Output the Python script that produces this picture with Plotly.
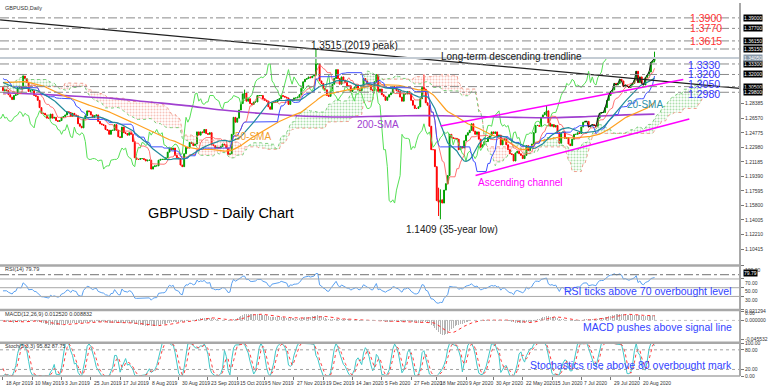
import numpy as np
import pandas as pd
import plotly.graph_objects as go

# ---------------- DATA (daily closes, read/estimated from the chart) ----------------
hist_closes = [  # 27 Dec 2018 - 17 Apr 2019 (warm-up for indicators)
    1.2670, 1.2700, 1.2750,
    1.2610, 1.2630, 1.2730,
    1.2780, 1.2730, 1.2770, 1.2750, 1.2840,
    1.2870, 1.2670, 1.2880, 1.2980, 1.2880,
    1.2880, 1.2950, 1.3050, 1.3060, 1.3190,
    1.3140, 1.3070, 1.3120, 1.3110, 1.3070,
    1.3040, 1.2960, 1.2940, 1.2950, 1.2940,
    1.2860, 1.2920, 1.2860, 1.2800, 1.2890,
    1.2940, 1.3050, 1.3050, 1.3040, 1.3060,
    1.3090, 1.3250, 1.3300, 1.3260, 1.3200,
    1.3160, 1.3170, 1.3130, 1.3130, 1.3010,
    1.3150, 1.3080, 1.3300, 1.3230, 1.3260,
    1.3270, 1.3260, 1.3210, 1.3080, 1.3210,
    1.3200, 1.3210, 1.3200, 1.3040, 1.3030,
    1.3150, 1.3070, 1.3190, 1.3110, 1.3030,
    1.3070, 1.3060, 1.3100, 1.3070, 1.3080,
    1.3090, 1.3050, 1.3040,
]
closes_2019 = [  # 18 Apr 2019 - 31 Dec 2019
    1.3000, 1.3010,
    1.3000, 1.2950, 1.2920, 1.2890, 1.2940,
    1.2950, 1.3040, 1.3040, 1.3030, 1.3180,
    1.3150, 1.3100, 1.2990, 1.3000, 1.3000,
    1.2940, 1.2930, 1.2880, 1.2790, 1.2720,
    1.2720, 1.2700, 1.2660, 1.2660, 1.2710,
    1.2660, 1.2670, 1.2630, 1.2620, 1.2630,
    1.2670, 1.2680, 1.2700, 1.2740, 1.2730,
    1.2680, 1.2720, 1.2700, 1.2690, 1.2590,
    1.2560, 1.2540, 1.2650, 1.2690, 1.2750,
    1.2740, 1.2700, 1.2670, 1.2690, 1.2700,
    1.2620, 1.2590, 1.2580, 1.2570, 1.2520,
    1.2510, 1.2460, 1.2510, 1.2510, 1.2580,
    1.2510, 1.2430, 1.2420, 1.2550, 1.2480,
    1.2470, 1.2450, 1.2480, 1.2460, 1.2370,
    1.2170, 1.2150, 1.2150, 1.2160, 1.2160,
    1.2150, 1.2130, 1.2140, 1.2140, 1.2030,
    1.2060, 1.2070, 1.2070, 1.2140, 1.2150,
    1.2150, 1.2150, 1.2170, 1.2240, 1.2290,
    1.2270, 1.2290, 1.2200, 1.2170, 1.2160,
    1.2080, 1.2060, 1.2220, 1.2300, 1.2290,
    1.2360, 1.2350, 1.2320, 1.2340, 1.2490,
    1.2450, 1.2490, 1.2480, 1.2520, 1.2470,
    1.2460, 1.2480, 1.2330, 1.2320, 1.2290,
    1.2300, 1.2290, 1.2310, 1.2340, 1.2330,
    1.2290, 1.2210, 1.2220, 1.2460, 1.2670,
    1.2610, 1.2660, 1.2760, 1.2840, 1.2960,
    1.2970, 1.2870, 1.2900, 1.2840, 1.2830,
    1.2860, 1.2860, 1.2940, 1.2940, 1.2940,
    1.2900, 1.2880, 1.2870, 1.2800, 1.2770,
    1.2850, 1.2860, 1.2860, 1.2890, 1.2900,
    1.2940, 1.2930, 1.2920, 1.2910, 1.2830,
    1.2890, 1.2880, 1.2910, 1.2910, 1.2920,
    1.2950, 1.3030, 1.3110, 1.3140, 1.3150,
    1.3170, 1.3160, 1.3180, 1.3200, 1.3330,
    1.3330, 1.3120, 1.3090, 1.3030, 1.3010,
    1.2940, 1.2930, 1.3000, 1.3080,
    1.3150, 1.3260,
]
closes_2020 = [  # 2 Jan 2020 - 1 Sep 2020
    1.3150, 1.3080,
    1.3170, 1.3130, 1.3100, 1.3060, 1.3060,
    1.2990, 1.3020, 1.3040, 1.3070, 1.3010,
    1.3000, 1.3050, 1.3150, 1.3120, 1.3080,
    1.3070, 1.3010, 1.3000, 1.3110, 1.3200,
    1.2990, 1.3020, 1.2950, 1.2930, 1.2880,
    1.2920, 1.2950, 1.2970, 1.3050, 1.3040,
    1.3000, 1.2990, 1.2920, 1.2870, 1.2960,
    1.2960, 1.2990, 1.2960, 1.2880, 1.2820,
    1.2780, 1.2780, 1.2800, 1.2900, 1.3040,
    1.3020, 1.2850, 1.2820, 1.2560, 1.2270,
    1.2270, 1.2060, 1.1640, 1.1620, 1.1650,
    1.1610, 1.1770, 1.1850, 1.1950, 1.2460,
    1.2420, 1.2410, 1.2410, 1.2400, 1.2270,
    1.2310, 1.2290, 1.2380, 1.2450, 1.2480,
    1.2510, 1.2590, 1.2500, 1.2460, 1.2490,
    1.2400, 1.2300, 1.2330, 1.2370, 1.2370,
    1.2420, 1.2440, 1.2490, 1.2470, 1.2490,
    1.2440, 1.2450, 1.2330, 1.2400, 1.2400,
    1.2330, 1.2270, 1.2220, 1.2210, 1.2130,
    1.2230, 1.2250, 1.2220, 1.2200, 1.2160,
    1.2200, 1.2320, 1.2260, 1.2300, 1.2340,
    1.2480, 1.2570, 1.2570, 1.2560, 1.2670,
    1.2700, 1.2730, 1.2750, 1.2600, 1.2560,
    1.2580, 1.2550, 1.2570, 1.2480, 1.2350,
    1.2480, 1.2490, 1.2410, 1.2420, 1.2340,
    1.2320, 1.2400, 1.2460, 1.2460, 1.2480,
    1.2470, 1.2550, 1.2610, 1.2620, 1.2620,
    1.2550, 1.2570, 1.2580, 1.2570, 1.2560,
    1.2660, 1.2720, 1.2730, 1.2730, 1.2790,
    1.2880, 1.2940, 1.2990, 1.3010, 1.3090,
    1.3070, 1.3090, 1.3140, 1.3120, 1.3050,
    1.3070, 1.3050, 1.3040, 1.3070, 1.3090,
    1.3130, 1.3240, 1.3100, 1.3170, 1.3090,
    1.3070, 1.3160, 1.3190, 1.3230, 1.3350,
    1.3370, 1.3410,
]
wick_dates = ['2019-05-03', '2019-10-21', '2019-12-13', '2020-03-09',
              '2020-03-19', '2020-03-20', '2020-06-10', '2020-09-01']
wick_highs = [1.3190, 1.3013, 1.3515, 1.3200, 1.1800, 1.1780, 1.2813, 1.3482]
wick_lows = [1.3030, 1.2900, 1.3180, 1.2990, 1.1450, 1.1409, 1.2680, 1.3350]

sma200_idx = [0, 20, 40, 60, 80, 100, 120, 140, 160, 180, 200, 220, 240, 260, 280, 300, 320, 340, 356]
sma200_val = [1.2975, 1.2955, 1.2930, 1.2905, 1.2860, 1.2815, 1.2760, 1.2720, 1.2690, 1.2675,
              1.2680, 1.2690, 1.2690, 1.2680, 1.2670, 1.2665, 1.2680, 1.2700, 1.2710]

date_labels = ["18 Apr 2019", "10 May 2019", "3 Jun 2019", "25 Jun 2019", "17 Jul 2019",
               "8 Aug 2019", "30 Aug 2019", "23 Sep 2019", "15 Oct 2019", "5 Nov 2019",
               "27 Nov 2019", "19 Dec 2019", "14 Jan 2020", "5 Feb 2020", "27 Feb 2020",
               "18 Mar 2020", "9 Apr 2020", "30 Apr 2020", "22 May 2020", "15 Jun 2020",
               "7 Jul 2020", "29 Jul 2020", "20 Aug 2020"]

red_levels = [1.3900, 1.3770, 1.3615]
blue_levels = [1.3330, 1.3200, 1.3050, 1.2980]
peak_level = 1.3515
current_price = 1.3405
price_ticks = [1.10415, 1.12210, 1.14005, 1.15800, 1.17595, 1.19390, 1.21185,
               1.22980, 1.24775, 1.26570, 1.28385]

trend_x = [-1.6, 402.7]
trend_y = [1.3875, 1.3029]
chan_up_x = [239.1, 371.7]
chan_up_y = [1.2563, 1.3139]
chan_lo_x = [258.2, 375.0]
chan_lo_y = [1.1952, 1.2649]
zigzag_start = '2020-07-09'

# ---------------- derived series ----------------
close = np.array(hist_closes + closes_2019 + closes_2020)
n_hist = len(hist_closes)
alld = pd.bdate_range('2018-12-27', '2020-09-01')
alld = alld[~alld.isin(pd.to_datetime(['2019-01-01', '2019-12-25', '2020-01-01']))]
m = min(len(alld), len(close))
alld = alld[:m]
close = close[:m]
open_ = np.r_[close[0], close[:-1]]
high = np.maximum(open_, close)
low = np.minimum(open_, close)
for d, h, l in zip(wick_dates, wick_highs, wick_lows):
    ts = pd.Timestamp(d)
    if ts in alld:
        k = alld.get_loc(ts)
        high[k] = max(high[k], h)
        low[k] = min(low[k], l)

s, hs, ls = pd.Series(close), pd.Series(high), pd.Series(low)
sma20 = s.rolling(20).mean()
sma50 = s.rolling(50).mean()
tenkan = (hs.rolling(9).max() + ls.rolling(9).min()) / 2
kijun = (hs.rolling(26).max() + ls.rolling(26).min()) / 2
spanA = ((tenkan + kijun) / 2).values
spanB = ((hs.rolling(52).max() + ls.rolling(52).min()) / 2).values

delta = s.diff()
ag = delta.clip(lower=0).ewm(alpha=1 / 14, adjust=False).mean()
al = (-delta.clip(upper=0)).ewm(alpha=1 / 14, adjust=False).mean()
rsi = 100 - 100 / (1 + ag / al)
macd = s.ewm(span=12, adjust=False).mean() - s.ewm(span=26, adjust=False).mean()
signal = macd.rolling(9).mean()
ll5, hh5 = ls.rolling(5).min(), hs.rolling(5).max()
stk = (s - ll5).rolling(3).sum() / (hh5 - ll5).rolling(3).sum() * 100
std = stk.rolling(3).mean()

N = m - n_hist
x = np.arange(N)
cs = slice(n_hist, m)
dates = alld[n_hist:]

xc = np.arange(N + 26)
A = spanA[n_hist - 26: n_hist - 26 + N + 26]
B = spanB[n_hist - 26: n_hist - 26 + N + 26]
xchik = np.arange(-26, N - 26)
zz0 = int(dates.searchsorted(pd.Timestamp(zigzag_start)))

# ---------------- geometry ----------------
W, H = 768, 389
MR, MB = 24, 13
PW, PH = W - MR, H - MB


def yp(py):
    return 1 - py / PH


P_TOP, P_SLOPE = 1.4084, 0.0012268
FONT = "Arial, Liberation Sans, sans-serif"

fig = go.Figure()
# cloud
cloud_common = dict(x=xc, mode='lines', hoverinfo='skip', showlegend=False)
fig.add_trace(go.Scatter(y=B, line=dict(color='#f0a090', width=1, dash='dot'), **cloud_common))
fig.add_trace(go.Scatter(y=np.where(A > B, A, B), line=dict(width=0), fill='tonexty',
                         fillcolor='rgba(0,0,0,0)',
                         fillpattern=dict(shape='.', fgcolor='#5cbf5c', bgcolor='rgba(255,255,255,0)',
                                          size=3, solidity=0.35), **cloud_common))
fig.add_trace(go.Scatter(y=A, line=dict(color='#7ccf7c', width=1, dash='dot'), **cloud_common))
fig.add_trace(go.Scatter(y=np.where(B > A, B, A), line=dict(width=0), fill='tonexty',
                         fillcolor='rgba(0,0,0,0)',
                         fillpattern=dict(shape='.', fgcolor='#f08878', bgcolor='rgba(255,255,255,0)',
                                          size=3, solidity=0.35), **cloud_common))
# lines
fig.add_trace(go.Scatter(x=xchik, y=close[cs], mode='lines', line=dict(color='#55e055', width=1)))
fig.add_trace(go.Scatter(x=sma200_idx, y=sma200_val, mode='lines', line=dict(color='#a040d0', width=1.6, shape='spline')))
fig.add_trace(go.Scatter(x=x, y=sma50.values[cs], mode='lines', line=dict(color='#ffa020', width=1.2)))
fig.add_trace(go.Scatter(x=x, y=tenkan.values[cs], mode='lines', line=dict(color='#ff5050', width=0.8)))
fig.add_trace(go.Scatter(x=x, y=kijun.values[cs], mode='lines', line=dict(color='#4050ff', width=1)))
fig.add_trace(go.Scatter(x=x, y=sma20.values[cs], mode='lines', line=dict(color='#1f8a9a', width=1.2)))
fig.add_trace(go.Scatter(x=trend_x, y=trend_y, mode='lines', line=dict(color='#202020', width=1.3)))
fig.add_trace(go.Scatter(x=chan_up_x, y=chan_up_y, mode='lines', line=dict(color='#ff00ff', width=1.5)))
fig.add_trace(go.Scatter(x=chan_lo_x, y=chan_lo_y, mode='lines', line=dict(color='#ff00ff', width=1.5)))
fig.add_trace(go.Candlestick(x=x, open=open_[cs], high=high[cs], low=low[cs], close=close[cs],
                             increasing=dict(line=dict(color='#00a000', width=1), fillcolor='#00a000'),
                             decreasing=dict(line=dict(color='#ff0000', width=1), fillcolor='#ff0000'),
                             whiskerwidth=0, hoverinfo='skip'))
fig.add_trace(go.Scatter(x=x[zz0:], y=close[cs][zz0:], mode='lines', line=dict(color='#1a1a1a', width=1)))
# RSI
fig.add_trace(go.Scatter(x=x, y=rsi.values[cs], yaxis='y2', mode='lines', line=dict(color='#5aa0f0', width=1)))
# MACD
fig.add_trace(go.Bar(x=x, y=macd.values[cs], yaxis='y3', marker_color='#b4b4b4', marker_line_width=0, width=0.55))
fig.add_trace(go.Scatter(x=x, y=signal.values[cs], yaxis='y3', mode='lines', line=dict(color='#ff3030', width=1, dash='dot')))
# Stoch
fig.add_trace(go.Scatter(x=x, y=stk.values[cs], yaxis='y4', mode='lines', line=dict(color='#40c8c8', width=1)))
fig.add_trace(go.Scatter(x=x, y=std.values[cs], yaxis='y4', mode='lines', line=dict(color='#ff4040', width=1, dash='dot')))

shapes = []
for lv in red_levels + [peak_level] + blue_levels:
    shapes.append(dict(type='line', xref='paper', x0=0, x1=1, yref='y', y0=lv, y1=lv,
                       line=dict(color='#8a8a8a', width=1, dash='dashdot')))
shapes.append(dict(type='line', xref='paper', x0=0, x1=1, yref='y', y0=current_price, y1=current_price,
                   line=dict(color='#c4ccd4', width=2)))
for lv in [70, 50, 30]:
    shapes.append(dict(type='line', xref='paper', x0=0, x1=1, yref='y2', y0=lv, y1=lv,
                       line=dict(color='#a8a8a8', width=1)))
shapes.append(dict(type='line', xref='paper', x0=0, x1=1, yref='y2', y0=79.79, y1=79.79,
                   line=dict(color='#707070', width=1, dash='dashdot')))
for lv in [80, 20]:
    shapes.append(dict(type='line', xref='paper', x0=0, x1=1, yref='y4', y0=lv, y1=lv,
                       line=dict(color='#a0a0a0', width=1, dash='dot')))
shapes.append(dict(type='line', xref='paper', x0=0, x1=1, yref='y3', y0=0, y1=0,
                   line=dict(color='#c0c0c0', width=1, dash='dot')))
for py in [264.5, 309.5, 342.5]:
    shapes.append(dict(type='line', xref='paper', x0=0, x1=1, yref='paper', y0=yp(py), y1=yp(py),
                       line=dict(color='#a8a8a8', width=2.5)))
shapes.append(dict(type='line', xref='paper', x0=1, x1=1, yref='paper', y0=0, y1=1,
                   line=dict(color='#a8a8a8', width=2)))
shapes.append(dict(type='line', xref='paper', x0=0, x1=1, yref='paper', y0=0, y1=0,
                   line=dict(color='#a8a8a8', width=1.5)))

ann = []


def A_(text, px, py, size, color, xanchor='left', **kw):
    ann.append(dict(text=text, x=px / PW, y=yp(py), xref='paper', yref='paper', showarrow=False,
                    xanchor=xanchor, yanchor='middle', font=dict(size=size, color=color, family=FONT), **kw))


A_("GBPUSD,Daily", 3, 5, 5.5, '#333333')
A_("1.3515 (2019 peak)", 311, 43, 10, '#202020')
A_("Long-term descending trendline", 441, 54, 10, '#202020')
for lv in red_levels:
    A_(f"{lv:.4f}", 692, (P_TOP - lv) / P_SLOPE, 10.5, '#ff3333')
for lv, py in zip(blue_levels, [62, 72, 82, 92]):
    A_(f"{lv:.4f}", 690, py, 10.5, '#3333ff')
A_("20-SMA", 628, 102, 10, '#2a8fa8')
A_("50-SMA", 234, 135, 10, '#f0a030')
A_("200-SMA", 357, 122, 10, '#a040d0')
A_("Ascending channel", 479, 181, 10, '#ff00ff')
A_("GBPUSD - Daily Chart", 147, 212, 14.5, '#000000')
A_("1.1409 (35-year low)", 406, 228, 10, '#202020')
A_("RSI(14) 79.79", 3, 268, 5.5, '#333333')
A_("MACD(12,26,9) 0.012520 0.008832", 3, 313, 5.5, '#333333')
A_("Stoch(5,3,3) 95.82 87.75", 3, 346, 5.5, '#333333')
A_("RSI ticks above 70 overbought level", 738, 290, 10.5, '#3344ff', xanchor='right')
A_("MACD pushes above signal line", 738, 327, 10.5, '#3344ff', xanchor='right')
A_("Stochastics rise above 80 overbought mark", 738, 365, 10.5, '#3344ff', xanchor='right')

# black boxed price labels on the right axis
for lv in red_levels + [peak_level] + blue_levels:
    ann.append(dict(text=f"{lv:.5f}", x=1, xref='paper', y=lv, yref='y', xanchor='left', xshift=3,
                    showarrow=False, bgcolor='#000000', borderpad=0,
                    font=dict(size=5, color='#ffffff', family=FONT)))
ann.append(dict(text=f"{current_price:.5f}", x=1, xref='paper', y=current_price, yref='y', xanchor='left',
                xshift=3, showarrow=False, bgcolor='#8898a8', borderpad=0,
                font=dict(size=5, color='#ffffff', family=FONT)))
ann.append(dict(text="79.79", x=1, xref='paper', y=79.79, yref='y2', xanchor='left', xshift=3, yshift=2,
                showarrow=False, bgcolor='#000000', borderpad=0, font=dict(size=5, color='#ffffff', family=FONT)))

# date labels
tick_idx = []
for lab in date_labels:
    ts = pd.to_datetime(lab, format='%d %b %Y')
    k = int(dates.searchsorted(ts))
    tick_idx.append(k)
    ann.append(dict(text=lab, x=k, xref='x', y=0, yref='paper', xanchor='left', yanchor='top',
                    xshift=1, yshift=-2, showarrow=False, font=dict(size=5, color='#333333', family=FONT)))

yax_common = dict(side='right', anchor='x', showgrid=False, zeroline=False, ticks='outside', ticklen=3,
                  tickcolor='#777777', tickfont=dict(size=5, color='#333333', family=FONT), showline=False)
fig.update_layout(
    width=W, height=H, margin=dict(l=0, r=MR, t=0, b=MB),
    paper_bgcolor='white', plot_bgcolor='white', showlegend=False, bargap=0,
    font=dict(family=FONT),
    xaxis=dict(domain=[0, 1], anchor='y4', range=[-1.63, 402.7], showgrid=False, zeroline=False,
               showticklabels=False, ticks='outside', ticklen=3, tickcolor='#777777',
               tickvals=tick_idx, rangeslider=dict(visible=False), showline=False),
    yaxis=dict(domain=[yp(264), 1], range=[P_TOP - 264 * P_SLOPE, P_TOP], tickvals=price_ticks,
               ticktext=[f"{v:.5f}" for v in price_ticks], **yax_common),
    yaxis2=dict(domain=[yp(309), yp(265)], range=[0, 100], tickvals=[0, 30, 50, 70, 100],
                ticktext=['0.00', '30.00', '50.00', '70.00', '100.00'], ticklabelshift=4, **yax_common),
    yaxis3=dict(domain=[yp(342), yp(310)], range=[-0.052, 0.0235], tickvals=[-0.045532, 0, 0.021294],
                ticktext=['-0.045532', '0.000000', '0.021294'], **yax_common),
    yaxis4=dict(domain=[0, yp(343)], range=[0, 100], tickvals=[0, 20, 80, 100],
                ticktext=['0.00', '20.00', '80.00', '100.00'], **yax_common),
    shapes=shapes, annotations=ann,
)
fig.write_html("out.html", config={'displayModeBar': False, 'staticPlot': True},
               post_script="document.body.style.margin='0';document.body.style.padding='0';"
                           "document.documentElement.style.overflow='hidden';")
